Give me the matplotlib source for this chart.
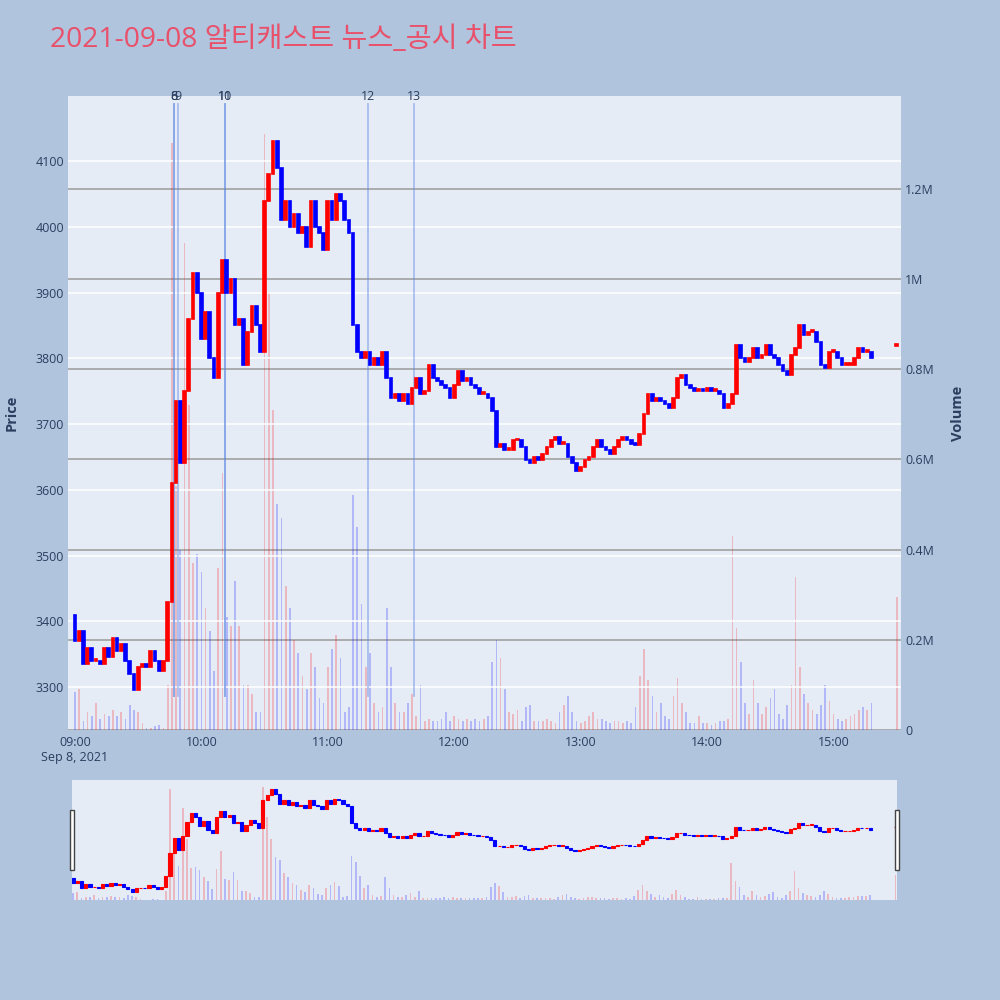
import numpy as np
import matplotlib.pyplot as plt
from matplotlib.patches import Rectangle
import matplotlib.transforms as mtransforms

plt.rcParams['font.family'] = ['Open Sans', 'Noto Sans CJK KR', 'DejaVu Sans']

########## Data ##########
title = "2021-09-08 알티캐스트 뉴스_공시 차트"

# 2-minute candles from 09:00 (minutes after open), close prices
first_open = 3410
close = [3370, 3385, 3335, 3360, 3340, 3340, 3335, 3360, 3345, 3375,
         3355, 3365, 3340, 3320, 3295, 3330, 3335, 3330, 3355, 3340,
         3325, 3340, 3430, 3610, 3735, 3640, 3750, 3860, 3930, 3900,
         3830, 3870, 3800, 3770, 3900, 3950, 3900, 3920, 3850, 3860,
         3790, 3840, 3880, 3850, 3810, 4040, 4080, 4130, 4090, 4010,
         4040, 4000, 4020, 3990, 4000, 3970, 4040, 4000, 3990, 3965,
         4040, 4010, 4050, 4040, 4010, 3990, 3850, 3810, 3800, 3810,
         3790, 3800, 3790, 3810, 3770, 3740, 3745, 3735, 3745, 3730,
         3755, 3770, 3745, 3750, 3790, 3770, 3765, 3760, 3755, 3740,
         3760, 3780, 3765, 3770, 3760, 3755, 3745, 3745, 3740, 3720,
         3665, 3670, 3660, 3660, 3675, 3675, 3665, 3645, 3640, 3650,
         3645, 3655, 3665, 3675, 3680, 3670, 3670, 3650, 3640, 3628,
         3635, 3645, 3650, 3665, 3675, 3665, 3660, 3655, 3665, 3675,
         3680, 3675, 3670, 3668, 3685, 3715, 3745, 3735, 3740, 3735,
         3730, 3725, 3740, 3770, 3775, 3760, 3755, 3750, 3752, 3750,
         3755, 3750, 3750, 3745, 3725, 3730, 3745, 3820, 3800, 3795,
         3800, 3815, 3800, 3805, 3820, 3805, 3800, 3790, 3780, 3775,
         3805, 3815, 3850, 3835, 3840, 3840, 3825, 3790, 3785, 3810,
         3810, 3800, 3790, 3790, 3790, 3800, 3815, 3810, 3810, 3800]

# volume in thousands of shares
volume = [85, 90, 20, 40, 30, 60, 25, 35, 30, 45,
          30, 40, 25, 55, 45, 40, 15, 5, 5, 8,
          10, 5, 100, 1300, 540, 400, 1080, 720, 370, 390,
          350, 270, 220, 130, 360, 570, 250, 230, 330, 230,
          100, 100, 80, 40, 40, 1320, 970, 710, 500, 470,
          320, 270, 200, 170, 120, 90, 170, 140, 70, 60,
          140, 180, 210, 160, 40, 50, 520, 450, 280, 140,
          170, 60, 40, 50, 270, 140, 60, 40, 40, 60,
          80, 30, 100, 20, 25, 20, 20, 25, 40, 20,
          30, 25, 20, 25, 20, 25, 20, 25, 30, 150,
          200, 160, 90, 40, 35, 45, 20, 50, 55, 20,
          20, 20, 25, 20, 15, 40, 55, 75, 40, 20,
          15, 20, 30, 40, 25, 25, 20, 15, 20, 20,
          15, 20, 15, 50, 120, 180, 110, 75, 40, 60,
          30, 25, 75, 115, 60, 40, 15, 15, 30, 15,
          15, 12, 15, 20, 20, 25, 430, 225, 150, 60,
          35, 110, 60, 35, 50, 70, 90, 35, 25, 55,
          100, 340, 140, 80, 60, 45, 35, 55, 100, 65,
          35, 25, 20, 25, 30, 35, 45, 50, 45, 60]

# closing auction at 15:30
auction_minute = 390
auction_open, auction_close, auction_volume = 3818, 3822, 295

# news / disclosure markers
news_minutes = [47, 47, 49, 71, 71, 139, 161]
news_labels = ['6', '8', '9', '10', '11', '12', '13']

price_ticks = [3300, 3400, 3500, 3600, 3700, 3800, 3900, 4000, 4100]
vol_ticks = [0, 200, 400, 600, 800, 1000, 1200]
vol_tick_labels = ['0', '0.2M', '0.4M', '0.6M', '0.8M', '1M', '1.2M']
time_ticks = [0, 60, 120, 180, 240, 300, 360]
time_labels = ['09:00\nSep 8, 2021', '10:00', '11:00', '12:00', '13:00', '14:00', '15:00']

########## Styles ##########
PAPER = '#B0C4DE'
PLOT_BG = '#E5ECF6'
FONT_C = '#2a3f5f'
UP, DOWN = '#FF0000', '#0000FF'
PRICE_LIM = (3234.6, 4199)
VOL_LIM = (0, 1405)


##### Build candle arrays #####
t = np.arange(len(close)) * 2.0
t = np.append(t, auction_minute)
c = np.append(np.array(close, float), auction_close)
o = np.append(np.append(first_open, close[:-1]), auction_open).astype(float)
v = np.append(np.array(volume, float), auction_volume)
up = c >= o
cols = np.where(up, UP, DOWN)


def draw_candles(ax, axv, body_w=1.3, vol_w=0.8, lw=1.0):
    vcols = [(1, 0, 0, 0.22) if u else (0, 0, 1, 0.22) for u in up]
    axv.bar(t, v, width=vol_w, color=vcols, linewidth=0)
    bottom = np.minimum(o, c)
    height = np.maximum(np.abs(c - o), 3)
    ax.bar(t, height, bottom=bottom, width=body_w, color=cols,
           edgecolor=cols, linewidth=lw, zorder=3)


########## Figure ##########
fig = plt.figure(figsize=(10, 10), dpi=100, facecolor=PAPER)

# main chart
axv = fig.add_axes([0.068, 0.270, 0.833, 0.634])
axv.set_facecolor(PLOT_BG)
ax = axv.twinx()
ax.yaxis.tick_left()
ax.yaxis.set_label_position('left')
axv.yaxis.tick_right()
axv.yaxis.set_label_position('right')
ax.patch.set_visible(False)

draw_candles(ax, axv, lw=1.2)

ax.set_xlim(-3.3, 392)
ax.set_ylim(*PRICE_LIM)
axv.set_ylim(*VOL_LIM)

ax.set_yticks(price_ticks)
ax.grid(axis='y', color='white', lw=1.1)
ax.set_axisbelow(True)
axv.set_yticks(vol_ticks)
axv.set_yticklabels(vol_tick_labels)
axv.grid(axis='y', color='#9a9a9a', lw=1.1)
axv.set_axisbelow(True)
axv.set_xticks(time_ticks)
axv.set_xticklabels(time_labels)

for a in (ax, axv):
    for s in a.spines.values():
        s.set_visible(False)
    a.tick_params(length=0, labelsize=9, labelcolor=FONT_C, pad=3)
axv.tick_params(axis='x', pad=4)

ax.set_ylabel('Price', fontsize=10.5, fontweight='bold', color=FONT_C, labelpad=12)
axv.set_ylabel('Volume', fontsize=10.5, fontweight='bold', color=FONT_C, labelpad=12)

# news lines
trans = mtransforms.blended_transform_factory(ax.transData, ax.transAxes)
for m, lab in zip(news_minutes, news_labels):
    ax.axvline(m, ymin=0.054, ymax=0.987, color='#5b84e0', alpha=0.45, lw=1.3, zorder=2)
    ax.text(m, 1.0, lab, transform=trans, ha='center', va='center',
            fontsize=9, color=FONT_C)

fig.text(0.05, 0.960, title, fontsize=20.3, color='#E9506A', ha='left', va='center')

# range slider
sv = fig.add_axes([0.072, 0.100, 0.8247, 0.120])
sv.set_facecolor(PLOT_BG)
sp = sv.twinx()
sp.patch.set_visible(False)
draw_candles(sp, sv, body_w=1.5, vol_w=0.8, lw=0.8)
sp.set_xlim(-0.5, 390.5)
sp.set_ylim(*PRICE_LIM)
sv.set_ylim(*VOL_LIM)
for a in (sv, sp):
    a.set_xticks([])
    a.set_yticks([])
    for s in a.spines.values():
        s.set_visible(False)

for hx in (0.0695, 0.895):
    fig.patches.append(Rectangle((hx, 0.130), 0.004, 0.060, transform=fig.transFigure,
                                 facecolor='white', edgecolor='#444444', lw=1.0))

fig.savefig('out.png', dpi=100, facecolor=PAPER)
